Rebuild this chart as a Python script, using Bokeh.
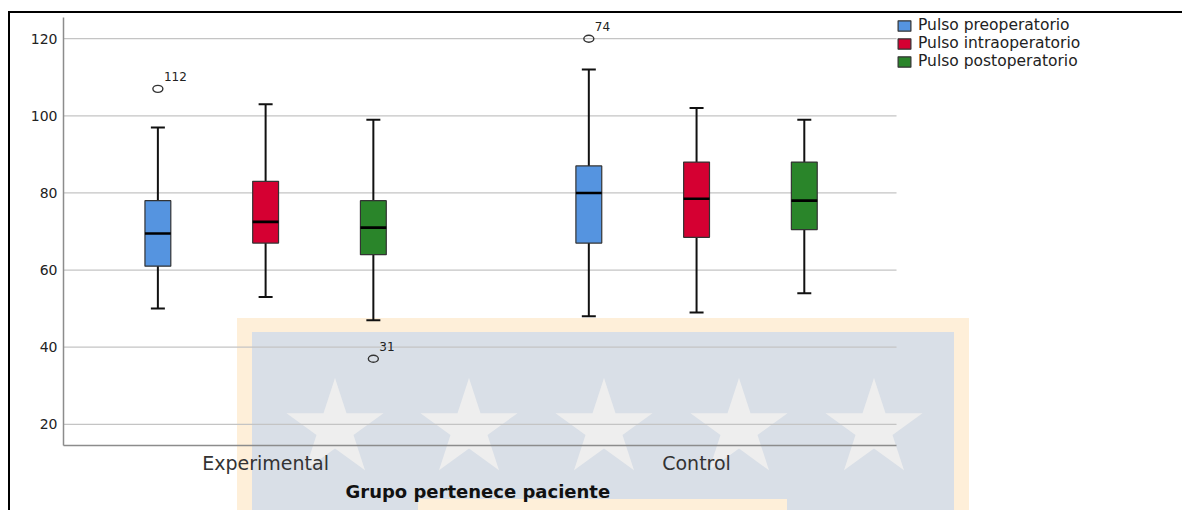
import math
import urllib.parse
from bokeh.plotting import figure
from bokeh.models import (ColumnDataSource, FixedTicker, Legend, LegendItem,
                          Range1d, Whisker, TeeHead, Title)
from bokeh.core.properties import value
from bokeh.embed import file_html
from bokeh.resources import INLINE

# ---------------- data ----------------
groups = ["Experimental", "Control"]
series = ["Pulso preoperatorio", "Pulso intraoperatorio", "Pulso postoperatorio"]
colors = ["#5594E0", "#D50032", "#2A852A"]

# one entry per box, ordered (group, series)
box_group = [0, 0, 0, 1, 1, 1]
box_series = [0, 1, 2, 0, 1, 2]
lower = [50, 53, 47, 48, 49, 54]
q1 = [61, 67, 64, 67, 68.5, 70.5]
median = [69.5, 72.5, 71, 80, 78.5, 78]
q3 = [78, 83, 78, 87, 88, 88]
upper = [97, 103, 99, 112, 102, 99]

out_group = [0, 0, 1]
out_series = [0, 2, 0]
out_value = [107, 37, 120]
out_label = ["112", "31", "74"]

y_ticks = [20, 40, 60, 80, 100, 120]
x_title = "Grupo pertenece paciente"

# ---------------- layout constants ----------------
offsets = [-0.25, 0.0, 0.25]
box_w = 0.06
FONT = "DejaVu Sans"
X0, X_AXIS_END, X1 = -0.469, 1.464, 2.1276   # plotting area ends at X_AXIS_END; legend lives beyond
Y0, Y1 = 14.5, 125.5

p = figure(width=1182, height=510,
           x_range=Range1d(X0, X1), y_range=Range1d(Y0, Y1),
           output_backend="svg", toolbar_location=None,
           min_border_left=63, min_border_top=17, min_border_right=0,
           min_border_bottom=65)
p.background_fill_color = None
p.border_fill_color = None
p.outline_line_color = None

# axes
p.yaxis.ticker = FixedTicker(ticks=y_ticks)
p.yaxis.major_tick_line_color = None
p.yaxis.minor_tick_line_color = None
p.yaxis.axis_line_color = "#8C8C8C"
p.yaxis.axis_line_width = 1.5
p.yaxis.major_label_text_font = FONT
p.yaxis.major_label_text_font_size = "14px"
p.yaxis.major_label_text_color = "#222222"
p.yaxis.major_label_standoff = 0

p.xaxis.ticker = FixedTicker(ticks=list(range(len(groups))))
p.xaxis.major_label_overrides = {i: g for i, g in enumerate(groups)}
p.xaxis.bounds = (X0, X_AXIS_END)
p.xaxis.major_tick_line_color = None
p.xaxis.minor_tick_line_color = None
p.xaxis.axis_line_color = "#8C8C8C"
p.xaxis.axis_line_width = 1.5
p.xaxis.major_label_text_font = FONT
p.xaxis.major_label_text_font_size = "19px"
p.xaxis.major_label_text_color = "#333333"
p.xaxis.major_label_standoff = 0

# axis title, centred under the plotting area (not under the legend strip)
p.add_layout(Title(text=x_title, align="left", offset=282, standoff=4,
                   text_font=FONT, text_font_size="18px",
                   text_font_style="bold", text_color="#111111"), "below")

p.xgrid.grid_line_color = None
p.ygrid.grid_line_color = None
# horizontal grid lines, limited to the plotting area
p.segment(x0=[X0] * len(y_ticks), x1=[X_AXIS_END] * len(y_ticks),
          y0=y_ticks, y1=y_ticks, line_color="#C4C4C4", line_width=1.2,
          level="underlay")

# ---------------- boxes ----------------
xs = [g + offsets[s] for g, s in zip(box_group, box_series)]
all_src = ColumnDataSource(dict(x=xs, lower=lower, q1=q1, med=median, q3=q3,
                                upper=upper,
                                mx0=[x - box_w / 2 for x in xs],
                                mx1=[x + box_w / 2 for x in xs]))

wh = Whisker(base="x", upper="upper", lower="lower", source=all_src,
             line_color="#111111", line_width=2,
             upper_head=TeeHead(size=14, line_color="#111111", line_width=2),
             lower_head=TeeHead(size=14, line_color="#111111", line_width=2))
p.add_layout(wh)

items = []
for s, name in enumerate(series):
    idx = [i for i, ss in enumerate(box_series) if ss == s]
    src = ColumnDataSource(dict(x=[xs[i] for i in idx],
                                q1=[q1[i] for i in idx],
                                q3=[q3[i] for i in idx]))
    r = p.vbar(x="x", width=box_w, bottom="q1", top="q3", source=src,
               fill_color=colors[s], line_color="#333333", line_width=1.2)
    items.append(LegendItem(label=name, renderers=[r]))

p.segment(x0="mx0", y0="med", x1="mx1", y1="med", source=all_src,
          line_color="#000000", line_width=2.6)

# outliers
ox = [g + offsets[s] for g, s in zip(out_group, out_series)]
osrc = ColumnDataSource(dict(x=ox, y=out_value, t=out_label))
p.ellipse(x="x", y="y", width=10, height=7, width_units="screen",
          height_units="screen", source=osrc, fill_color=None,
          line_color="#333333", line_width=1.4)
p.text(x="x", y="y", text="t", source=osrc, x_offset=6, y_offset=-12,
       text_font=value(FONT), text_font_size="12px", text_color="#222222",
       text_baseline="alphabetic", text_align="left")

legend = Legend(items=items, location=(833, 375), margin=0, padding=3,
                spacing=0, glyph_width=16, glyph_height=13, label_standoff=6,
                label_text_font=FONT, label_text_font_size="15.5px",
                label_text_color="#222222", border_line_color=None,
                background_fill_alpha=0)
p.add_layout(legend)

# ---------------- page decoration (document watermark & frame lines) ----------------
def star(cx, cy, R, r):
    pts = []
    for k in range(10):
        ang = -math.pi / 2 + k * math.pi / 5
        rad = R if k % 2 == 0 else r
        pts.append(f"{cx + rad * math.cos(ang):.1f},{cy + rad * math.sin(ang):.1f}")
    return " ".join(pts)

stars = "".join(f'<polygon points="{star(cx, 429, 51, 19.5)}" fill="#EEEEEE"/>'
                for cx in (335, 469, 604, 739, 874))
svg = ('<svg xmlns="http://www.w3.org/2000/svg" width="1182" height="510">'
       '<rect x="237" y="318" width="732" height="200" fill="#FEEFD9"/>'
       '<rect x="252" y="332" width="702" height="200" fill="#D9DFE7"/>'
       '<rect x="418" y="499" width="369" height="20" fill="#FEEFD9"/>'
       + stars +
       '<rect x="8" y="11" width="1174" height="2" fill="#000000"/>'
       '<rect x="8" y="11" width="2" height="499" fill="#000000"/>'
       '</svg>')
p.styles = {"background-image": 'url("data:image/svg+xml;charset=utf-8,'
                                + urllib.parse.quote(svg) + '")',
            "background-repeat": "no-repeat"}

open("out.html", "w").write(file_html(p, INLINE))
